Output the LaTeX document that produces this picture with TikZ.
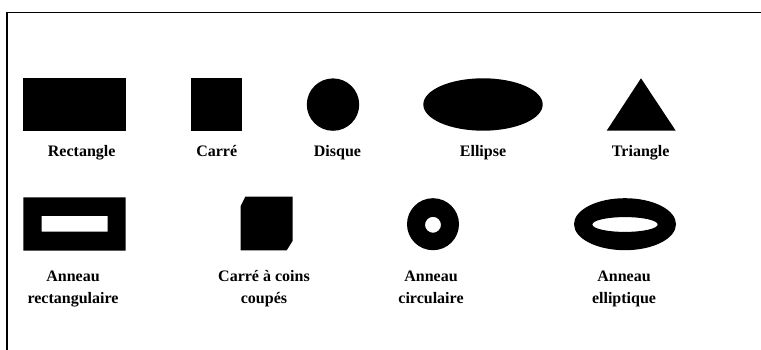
\documentclass[tikz,border=0pt]{standalone}
\usepackage{fontspec}
\setmainfont{Liberation Serif}
\usepackage{tikz}

\begin{document}
\begin{tikzpicture}[x=1pt, y=-1pt,
  forme/.style={fill=black},
  legende/.style={font=\fontsize{16}{22}\selectfont\bfseries, align=center, anchor=base, inner sep=0pt}]
  \useasboundingbox (0,0) rectangle (761,350);
  % cadre
  \draw[line width=1.6pt] (6.7,350) -- (6.7,12.7) -- (761,12.7);
  % premiere ligne
  \fill[forme] (23.3,78.5) rectangle (125.7,130.7);
  \fill[forme] (191,78.5) rectangle (242.3,130.7);
  \fill[forme] (333,104.6) circle (26.2);
  \fill[forme] (483,104.5) ellipse (59.7 and 26.2);
  \fill[forme] (641,78.3) -- (675.7,130.7) -- (606.7,130.7) -- cycle;
  \node[legende] (lblrect) at (81.7,157) {Rectangle};
  \node[legende] (lblcarre) at (216.7,157) {Carré};
  \node[legende] (lbldisque) at (337.5,157) {Disque};
  \node[legende] (lblellipse) at (483,157) {Ellipse};
  \node[legende] (lbltriangle) at (640.7,157) {Triangle};
  % deuxieme ligne (ligne de base = derniere ligne du texte)
  \fill[forme, even odd rule] (23.3,197.5) rectangle (125.7,250.5) (41.7,216) rectangle (107.7,231.7);
  \fill[forme] (240.7,206) -- (245.3,196.7) -- (292.7,196.7) -- (292.7,240.7) -- (286.7,250.3) -- (240.7,250.3) -- cycle;
  \fill[forme, even odd rule] (433,224.2) circle (26) (433,224.8) circle (8);
  \fill[forme, even odd rule] (625,224.2) ellipse (51 and 26) (625,224.5) ellipse (32.7 and 7.4);
  \node[legende] (lblanrect) at (73,303) {Anneau\\rectangulaire};
  \node[legende] (lblcoupe) at (264,303) {Carré à coins\\coupés};
  \node[legende] (lblancirc) at (431,303) {Anneau\\circulaire};
  \node[legende] (lblanell) at (624,303) {Anneau\\elliptique};
\end{tikzpicture}
\end{document}
